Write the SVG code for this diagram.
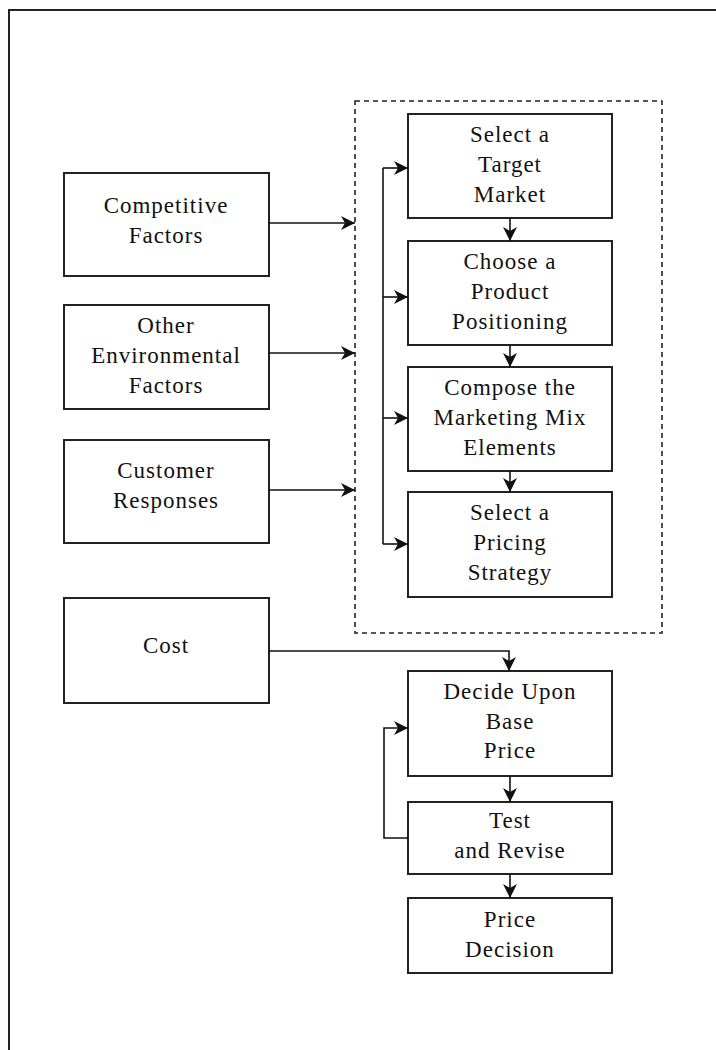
<svg xmlns="http://www.w3.org/2000/svg" width="716" height="1050" viewBox="0 0 716 1050">
<style>
.box{fill:#fff;stroke:#222;stroke-width:2}
.ln{fill:none;stroke:#111;stroke-width:1.6}
text{font-family:"Liberation Serif","Times New Roman",serif;font-size:23px;fill:#111;text-anchor:middle;letter-spacing:1px}
</style>
<defs>
<marker id="ah" markerUnits="userSpaceOnUse" markerWidth="15" markerHeight="14" refX="14" refY="7" orient="auto">
<path d="M0,0 L14,7 L0,14 L4,7 z" fill="#111"/>
</marker>
</defs>
<rect width="716" height="1050" fill="#fff"/>
<path d="M9,1050 V10 H716" fill="none" stroke="#222" stroke-width="2"/>
<rect id="group-box" x="355" y="101" width="307" height="532" fill="none" stroke="#222" stroke-width="1.6" stroke-dasharray="5,4"/>

<g id="competitive"><rect class="box" x="64" y="173" width="205" height="103"/><text x="166" y="213">Competitive</text><text x="166" y="243">Factors</text></g>
<g id="environmental"><rect class="box" x="64" y="305" width="205" height="104"/><text x="166" y="333">Other</text><text x="166" y="363">Environmental</text><text x="166" y="393">Factors</text></g>
<g id="customer"><rect class="box" x="64" y="440" width="205" height="103"/><text x="166" y="478">Customer</text><text x="166" y="508">Responses</text></g>
<g id="cost"><rect class="box" x="64" y="598" width="205" height="105"/><text x="166" y="653">Cost</text></g>

<g id="target"><rect class="box" x="408" y="114" width="204" height="104"/><text x="510" y="142">Select a</text><text x="510" y="172">Target</text><text x="510" y="202">Market</text></g>
<g id="positioning"><rect class="box" x="408" y="241" width="204" height="104"/><text x="510" y="269">Choose a</text><text x="510" y="299">Product</text><text x="510" y="329">Positioning</text></g>
<g id="mix"><rect class="box" x="408" y="367" width="204" height="104"/><text x="510" y="395">Compose the</text><text x="510" y="425">Marketing Mix</text><text x="510" y="455">Elements</text></g>
<g id="strategy"><rect class="box" x="408" y="492" width="204" height="105"/><text x="510" y="520">Select a</text><text x="510" y="550">Pricing</text><text x="510" y="580">Strategy</text></g>
<g id="base"><rect class="box" x="408" y="671" width="204" height="105"/><text x="510" y="699">Decide Upon</text><text x="510" y="729">Base</text><text x="510" y="758">Price</text></g>
<g id="test"><rect class="box" x="408" y="802" width="204" height="72"/><text x="510" y="828">Test</text><text x="510" y="858">and Revise</text></g>
<g id="decision"><rect class="box" x="408" y="898" width="204" height="75"/><text x="510" y="927">Price</text><text x="510" y="957">Decision</text></g>

<g id="connectors">
<path class="ln" d="M269,223 H355" marker-end="url(#ah)"/>
<path class="ln" d="M269,353 H355" marker-end="url(#ah)"/>
<path class="ln" d="M269,490 H355" marker-end="url(#ah)"/>
<path class="ln" d="M383,168 V544"/>
<path class="ln" d="M383,168 H408" marker-end="url(#ah)"/>
<path class="ln" d="M383,297 H408" marker-end="url(#ah)"/>
<path class="ln" d="M383,418 H408" marker-end="url(#ah)"/>
<path class="ln" d="M383,544 H408" marker-end="url(#ah)"/>
<path class="ln" d="M510,218 V241" marker-end="url(#ah)"/>
<path class="ln" d="M510,345 V367" marker-end="url(#ah)"/>
<path class="ln" d="M510,471 V492" marker-end="url(#ah)"/>
<path class="ln" d="M269,651 H509 V671" marker-end="url(#ah)"/>
<path class="ln" d="M510,776 V802" marker-end="url(#ah)"/>
<path class="ln" d="M510,874 V898" marker-end="url(#ah)"/>
<path class="ln" d="M408,838 H384 V728 H408" marker-end="url(#ah)"/>
</g>
</svg>
